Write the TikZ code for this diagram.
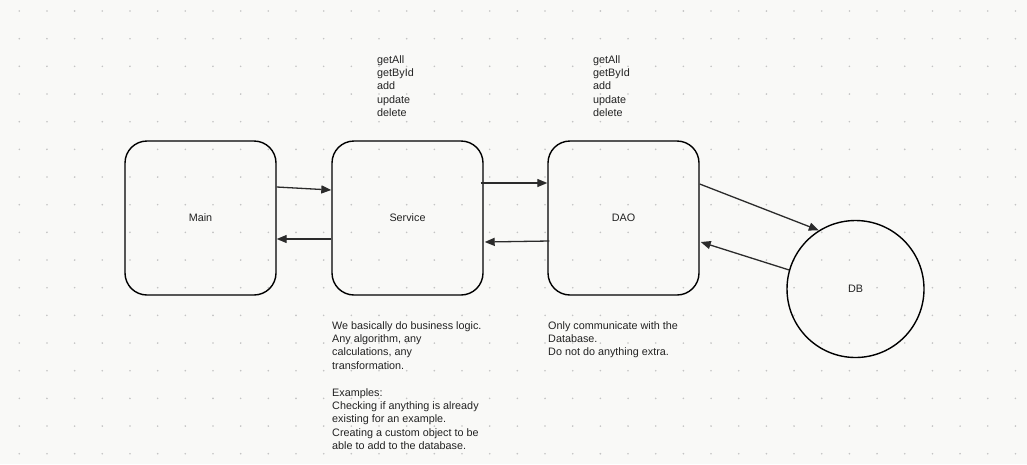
\documentclass[tikz,border=0pt]{standalone}
\usepackage{fontspec}
\setmainfont{Liberation Sans}
\usetikzlibrary{arrows.meta}
\definecolor{bg}{HTML}{F9F9F7}
\definecolor{dotc}{HTML}{C4C4C4}
\definecolor{linec}{HTML}{2B2B2B}
\definecolor{txt}{HTML}{222222}
\tikzset{
  box/.style={draw=black, line width=1.4pt, rounded corners=22pt, minimum width=151pt, minimum height=154pt, inner sep=0pt, font=\fontsize{10.8}{13.4}\selectfont, text=txt},
  dbnode/.style={draw=black, line width=1.4pt, circle, minimum size=137pt, inner sep=0pt, font=\fontsize{10.8}{13.4}\selectfont, text=txt},
  arr/.style={draw=linec, line width=1.3pt, -{Triangle[length=10pt,width=8pt]}},
  note/.style={anchor=base west, inner sep=0pt, align=left, text=txt, font=\fontsize{10.8}{13.4}\selectfont}
}
\begin{document}
\begin{tikzpicture}[x=1pt,y=-1pt]
\fill[bg] (0,0) rectangle (1027,464);
\useasboundingbox (0,0) rectangle (1027,464);
\foreach \i in {0,...,36} {
  \foreach \j in {0,...,16} {
    \fill[dotc] (19.3+27.67*\i, 11+27.67*\j) circle (0.9pt);
  }
}
\node[box] (main) at (200.5,218) {Main};
\node[box] (service) at (407.5,218) {Service};
\node[box] (dao) at (623.5,218) {DAO};
\node[dbnode] (db) at (855.5,289) {DB};

\draw[arr] ([yshift=31pt]main.east) -- ([yshift=28pt]service.west);
\draw[arr] ([yshift=-21pt]service.west) -- ([yshift=-21pt]main.east);
\draw[arr] ([xshift=-3pt,yshift=35pt]service.east) -- ([yshift=35pt]dao.west);
\draw[arr] ([xshift=2pt,yshift=-23pt]dao.west) -- ([xshift=1pt,yshift=-24pt]service.east);
\draw[arr] ([yshift=34pt]dao.east) -- (db.122);
\draw[arr] (db.164) -- ([xshift=1pt,yshift=-24pt]dao.east);

\node[note] (ops1) at (377,116.6) {getAll\\getById\\add\\update\\delete};
\node[note] (ops2) at (593,116.6) {getAll\\getById\\add\\update\\delete};
\node[note] (servnote) at (332,449.6) {We basically do business logic.\\Any algorithm, any\\calculations, any\\transformation.\\[13.4pt]Examples:\\Checking if anything is already\\existing for an example.\\Creating a custom object to be\\able to add to the database.};
\node[note] (daonote) at (548,355.8) {Only communicate with the\\Database.\\Do not do anything extra.};
\end{tikzpicture}
\end{document}
